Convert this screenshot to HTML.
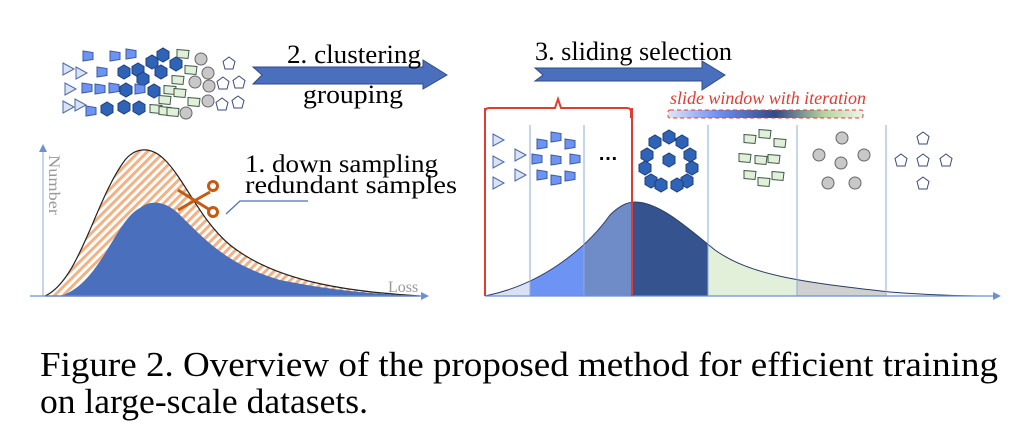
<!DOCTYPE html>
<html><head><meta charset="utf-8"><style>
html,body{margin:0;padding:0;background:#fff;}
svg{display:block}
</style></head><body>
<svg width="1024" height="427" viewBox="0 0 1024 427" xmlns="http://www.w3.org/2000/svg">
<defs>
<pattern id="hatch" patternUnits="userSpaceOnUse" width="6" height="6" patternTransform="rotate(45)">
<rect width="6" height="6" fill="#fff"/><rect width="3" height="6" fill="#f4b183"/></pattern>
<linearGradient id="grad" x1="0" x2="1"><stop offset="0" stop-color="#dfe6f6"/><stop offset="0.25" stop-color="#6d94f5"/><stop offset="0.55" stop-color="#2f4b86"/><stop offset="0.8" stop-color="#b5d3a0"/><stop offset="1" stop-color="#eef4ea"/></linearGradient>
<clipPath id="rc"><path d="M485,296 C540,285 585,250 610,215 C620,205 628,202 635,202 C660,202 690,230 715,250 C750,275 800,282 890,292 C930,295 960,296 990,296 Z"/></clipPath>
<g id="hex"><polygon points="-6,-3.5 0,-7 6,-3.5 6,3.5 0,7 -6,3.5" fill="#2e63b8" stroke="#1f3f7a" stroke-width="1"/></g>
<g id="tri"><polygon points="-5,-6 6,0 -5,6" fill="#dae3f3" stroke="#4a6aa8" stroke-width="1"/></g>
<g id="trap"><polygon points="-5,-5 5,-3.5 5,3.5 -5,5" fill="#6d94f5" stroke="#3a5aa0" stroke-width="1"/></g>
<g id="par"><polygon points="-6,-4.5 6,-3.5 5,4.5 -6,3.5" fill="#e2efd9" stroke="#3d5a4a" stroke-width="1"/></g>
<g id="cir"><circle r="6" fill="#c8c8c8" stroke="#666" stroke-width="1"/></g>
<g id="pen"><polygon points="0,-6 6,-1.5 4,6 -4,6 -6,-1.5" fill="#fff" stroke="#3a4a7a" stroke-width="1"/></g>
</defs>

<!-- left scatter -->
<use href="#trap" x="88" y="56"/><use href="#trap" x="115" y="56"/><use href="#trap" x="131" y="54"/>
<use href="#hex" x="152" y="62"/><use href="#hex" x="163" y="55"/><use href="#hex" x="138" y="70"/><use href="#hex" x="176" y="64"/>
<use href="#par" x="183" y="54"/><use href="#cir" x="201" y="59"/><use href="#pen" x="229" y="63"/>
<use href="#tri" x="68" y="69"/><use href="#tri" x="81" y="73"/><use href="#trap" x="102" y="72"/>
<use href="#hex" x="124" y="72"/><use href="#hex" x="161" y="72"/><use href="#par" x="191" y="70"/><use href="#cir" x="208" y="73"/>
<use href="#hex" x="143" y="79"/><use href="#par" x="178" y="80"/><use href="#cir" x="195" y="82"/><use href="#cir" x="209" y="86"/><use href="#pen" x="223" y="83"/><use href="#pen" x="239" y="82"/>
<use href="#tri" x="70" y="89"/><use href="#trap" x="87" y="88"/><use href="#trap" x="100" y="89"/><use href="#trap" x="114" y="88"/><use href="#hex" x="126" y="90"/><use href="#trap" x="140" y="89"/><use href="#hex" x="154" y="91"/><use href="#par" x="170" y="90"/><use href="#par" x="180" y="93"/>
<use href="#par" x="165" y="100"/><use href="#par" x="194" y="102"/><use href="#cir" x="208" y="101"/><use href="#pen" x="222" y="104"/><use href="#pen" x="238" y="102"/>
<use href="#tri" x="68" y="107"/><use href="#tri" x="80" y="105"/><use href="#trap" x="91" y="111"/><use href="#hex" x="107" y="109"/><use href="#hex" x="124" y="107"/><use href="#hex" x="139" y="108"/><use href="#par" x="156" y="109"/><use href="#par" x="165" y="111"/><use href="#par" x="173" y="112"/><use href="#cir" x="186" y="113"/>

<!-- arrow 2 -->
<polygon points="253,67 423,67 423,60 447,75 423,89 423,84 253,84 262,75" fill="#4a6fbd" stroke="#2f4b86" stroke-width="1"/>
<text x="287" y="63" font-family="Liberation Serif, serif" font-size="26" textLength="134" lengthAdjust="spacingAndGlyphs">2. clustering</text>
<text x="303" y="103" font-family="Liberation Serif, serif" font-size="26" textLength="100" lengthAdjust="spacingAndGlyphs">grouping</text>

<!-- left chart -->
<path d="M45,296 C80,280 95,200 125,160 C135,148 150,145 165,160 C185,180 200,220 230,245 C280,285 360,292 420,296 Z" fill="url(#hatch)" stroke="#222" stroke-width="1.2"/>
<path d="M60,296 C100,285 115,220 140,208 C150,200 165,200 180,215 C210,245 230,265 280,280 C340,292 380,294 420,296 Z" fill="#4a6fbd"/>
<line x1="43" y1="296" x2="43" y2="150" stroke="#8fa8dc" stroke-width="1"/>
<polygon points="39,152 43,144 47,152" fill="#6e8fd0"/>
<line x1="30" y1="296" x2="425" y2="296" stroke="#6e8fd0" stroke-width="1.2"/>
<polygon points="421,292 429,296 421,300" fill="#6e8fd0"/>
<text x="0" y="0" transform="translate(49,155) rotate(90)" font-family="Liberation Serif, serif" font-size="16" fill="#999" textLength="60" lengthAdjust="spacingAndGlyphs">Number</text>
<text x="388" y="292" font-family="Liberation Serif, serif" font-size="16" fill="#999">Loss</text>
<text x="245" y="172" font-family="Liberation Serif, serif" font-size="25" textLength="193" lengthAdjust="spacingAndGlyphs">1. down sampling</text>
<text x="245" y="193" font-family="Liberation Serif, serif" font-size="25" textLength="212" lengthAdjust="spacingAndGlyphs">redundant samples</text>
<polyline points="226,214 240,201 308,201" fill="none" stroke="#4a6fbd" stroke-width="1.2"/>
<!-- scissors -->
<g stroke="#c55a11" stroke-width="3" fill="none">
<line x1="178" y1="190" x2="210" y2="210"/><line x1="178" y1="210" x2="210" y2="192"/>
<circle cx="213" cy="186" r="4.5"/><circle cx="213" cy="212" r="4.5"/></g>

<!-- arrow 3 -->
<polygon points="535,68 702,68 702,61 725,75 702,90 702,81 535,81 543,75" fill="#4a6fbd" stroke="#2f4b86" stroke-width="1"/>
<text x="535" y="60" font-family="Liberation Serif, serif" font-size="26" textLength="197" lengthAdjust="spacingAndGlyphs">3. sliding selection</text>
<text x="670" y="104" font-family="Liberation Serif, serif" font-size="18" font-style="italic" fill="#e03c31" textLength="196" lengthAdjust="spacingAndGlyphs">slide window with iteration</text>
<rect x="668" y="110" width="195" height="8" fill="url(#grad)" stroke="#e03c31" stroke-dasharray="4,3" rx="2"/>

<!-- right chart fills -->
<g clip-path="url(#rc)">
<rect x="485" y="190" width="45" height="110" fill="#d9e1f2"/>
<rect x="530" y="190" width="54" height="110" fill="#6d94f5"/>
<rect x="584" y="190" width="48" height="110" fill="#6f8cc9"/>
<rect x="632" y="190" width="76" height="110" fill="#35548f"/>
<rect x="708" y="190" width="89" height="110" fill="#e2efd9"/>
<rect x="797" y="190" width="89" height="110" fill="#d0d0d0"/>
<rect x="886" y="190" width="110" height="110" fill="#f2f2f2"/>
</g>
<path d="M485,296 C540,285 585,250 610,215 C620,205 628,202 635,202 C660,202 690,230 715,250 C750,275 800,282 890,292 C930,295 960,296 990,296" fill="none" stroke="#2a3b66" stroke-width="1"/>
<g stroke="#8fa8dc" stroke-width="1">
<line x1="530" y1="125" x2="530" y2="296"/><line x1="584" y1="125" x2="584" y2="296"/>
<line x1="708" y1="125" x2="708" y2="296"/><line x1="797" y1="125" x2="797" y2="296"/><line x1="886" y1="125" x2="886" y2="296"/></g>
<line x1="485" y1="296" x2="995" y2="296" stroke="#6e8fd0" stroke-width="1.2"/>
<polygon points="993,292 1001,296 993,300" fill="#6e8fd0"/>
<!-- red bracket -->
<g stroke="#e03c31" stroke-width="2" fill="none">
<path d="M485,118 L485,112 Q485,108 489,108 L555,108 L558,99 L561,108 L627,108 Q631,108 631,112 L631,118"/>
<line x1="485" y1="108" x2="485" y2="296"/><line x1="632" y1="108" x2="632" y2="296"/></g>

<!-- right shapes -->
<use href="#tri" x="498" y="140"/><use href="#tri" x="498" y="162"/><use href="#tri" x="498" y="183"/><use href="#tri" x="520" y="155"/><use href="#tri" x="520" y="175"/>
<use href="#trap" x="556" y="137"/><use href="#trap" x="542" y="144"/><use href="#trap" x="570" y="144"/><use href="#trap" x="537" y="159"/><use href="#trap" x="556" y="160"/><use href="#trap" x="575" y="159"/><use href="#trap" x="542" y="175"/><use href="#trap" x="556" y="180"/><use href="#trap" x="570" y="176"/>
<text x="598" y="160" font-family="Liberation Sans, sans-serif" font-size="20" font-weight="bold">…</text>
<use href="#hex" x="669" y="137"/><use href="#hex" x="655" y="142"/><use href="#hex" x="682" y="142"/><use href="#hex" x="647" y="155"/><use href="#hex" x="690" y="155"/><use href="#hex" x="669" y="160"/><use href="#hex" x="645" y="168"/><use href="#hex" x="692" y="168"/><use href="#hex" x="651" y="181"/><use href="#hex" x="687" y="181"/><use href="#hex" x="661" y="185"/><use href="#hex" x="677" y="185"/>
<use href="#par" x="750" y="139"/><use href="#par" x="765" y="134"/><use href="#par" x="780" y="143"/><use href="#par" x="745" y="158"/><use href="#par" x="761" y="160"/><use href="#par" x="774" y="159"/><use href="#par" x="750" y="175"/><use href="#par" x="764" y="182"/><use href="#par" x="778" y="176"/>
<use href="#cir" x="842" y="138"/><use href="#cir" x="819" y="155"/><use href="#cir" x="841" y="163"/><use href="#cir" x="864" y="155"/><use href="#cir" x="828" y="183"/><use href="#cir" x="855" y="183"/>
<use href="#pen" x="923" y="138"/><use href="#pen" x="901" y="160"/><use href="#pen" x="923" y="160"/><use href="#pen" x="946" y="160"/><use href="#pen" x="923" y="183"/>

<!-- caption -->
<text x="40" y="376" font-family="Liberation Serif, serif" font-size="35" textLength="958" lengthAdjust="spacingAndGlyphs">Figure 2. Overview of the proposed method for efficient training</text>
<text x="40" y="413" font-family="Liberation Serif, serif" font-size="35" textLength="328" lengthAdjust="spacingAndGlyphs">on large-scale datasets.</text>
</svg>
</body></html>
